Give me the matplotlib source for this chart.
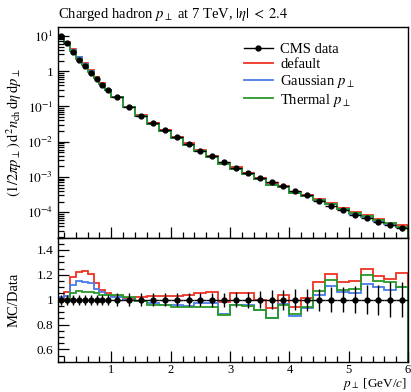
import numpy as np
import matplotlib
matplotlib.use("Agg")
import matplotlib.pyplot as plt
from matplotlib.ticker import FixedLocator, MultipleLocator, LogLocator, FuncFormatter, NullFormatter
from matplotlib.lines import Line2D

plt.rcParams['font.family'] = ['Liberation Serif', 'DejaVu Serif']
plt.rcParams['mathtext.fontset'] = 'stix'

# ---- data ----
bin_edges = [0.1, 0.2, 0.3, 0.4, 0.5, 0.6, 0.7, 0.8, 0.9, 1.0,
             1.2, 1.4, 1.6, 1.8, 2.0, 2.2, 2.4, 2.6, 2.8, 3.0,
             3.2, 3.4, 3.6, 3.8, 4.0, 4.2, 4.4, 4.6, 4.8, 5.0,
             5.2, 5.4, 5.6, 5.8, 6.0]

cms_log10 = [1.00, 0.80, 0.55, 0.33, 0.14, -0.05, -0.22, -0.38, -0.54,
             -0.74, -1.02, -1.26, -1.47, -1.67, -1.87, -2.06, -2.25, -2.42, -2.59,
             -2.75, -2.90, -3.03, -3.15, -3.27, -3.39, -3.52, -3.68, -3.82, -3.95,
             -4.07, -4.18, -4.28, -4.37, -4.46]

cms_rel_err = [0.04, 0.04, 0.04, 0.04, 0.04, 0.04, 0.04, 0.04, 0.04,
               0.05, 0.05, 0.05, 0.05, 0.05, 0.05, 0.05, 0.05, 0.055, 0.055,
               0.06, 0.065, 0.07, 0.075, 0.08, 0.085, 0.09, 0.09, 0.10, 0.10,
               0.11, 0.115, 0.12, 0.14, 0.14]

ratio_default = [1.00, 1.06, 1.18, 1.225, 1.23, 1.21, 1.135, 1.08, 1.05,
                 1.03, 1.015, 1.02, 1.03, 1.03, 1.03, 1.035, 1.05, 1.06, 0.98,
                 1.05, 1.055, 1.00, 0.93, 1.035, 0.945, 1.015, 1.14, 1.21, 1.145,
                 1.15, 1.25, 1.19, 1.17, 1.215]

ratio_gaussian = [1.02, 1.03, 1.12, 1.15, 1.145, 1.135, 1.09, 1.06, 1.04,
                  1.025, 0.995, 0.99, 0.97, 0.955, 0.955, 0.95, 0.97, 0.97, 0.885,
                  0.96, 0.955, 0.92, 0.85, 0.965, 0.865, 0.93, 1.04, 1.11, 1.06,
                  1.055, 1.13, 1.10, 1.075, 1.10]

ratio_thermal = [0.99, 1.00, 1.05, 1.07, 1.065, 1.06, 1.05, 1.035, 1.035,
                 1.035, 1.025, 0.99, 0.96, 0.955, 0.94, 0.94, 0.94, 0.945, 0.88,
                 0.955, 0.95, 0.92, 0.855, 0.955, 0.886, 0.94, 1.073, 1.157, 1.08,
                 1.085, 1.20, 1.15, 1.145, 1.10]

series_labels = ['default', r'Gaussian $p_\perp$', r'Thermal $p_\perp$']
series_colors = ['#ee3322', '#4a7de8', '#2a9a2a']

edges = np.array(bin_edges)
centers = 0.5 * (edges[1:] + edges[:-1])
halfw = 0.5 * (edges[1:] - edges[:-1])
cms = 10 ** np.array(cms_log10)
err = np.array(cms_rel_err)
ratios = [np.array(ratio_default), np.array(ratio_gaussian), np.array(ratio_thermal)]

fig = plt.figure(figsize=(4.11, 3.92), dpi=100)
ax1 = fig.add_axes([0.141, 0.394, 0.852, 0.537])
ax2 = fig.add_axes([0.141, 0.077, 0.852, 0.317], sharex=ax1)

# top panel
for r, c in zip(ratios, series_colors):
    ax1.stairs(cms * r, edges, color=c, lw=1.3)
ax1.errorbar(centers, cms, yerr=cms * err, xerr=halfw, fmt='o', color='black',
             ms=3.5, lw=1.0, capsize=0, zorder=5)
ax1.set_yscale('log')
ax1.set_ylim(1.9e-5, 18)
ax1.set_xlim(0.1, 6.0)

def logfmt(v, pos):
    e = int(round(np.log10(v)))
    if e == 0:
        return '1'
    return r'$10^{%d}$' % e

ax1.yaxis.set_major_locator(FixedLocator([1e-4, 1e-3, 1e-2, 1e-1, 1, 10]))
ax1.yaxis.set_minor_locator(LogLocator(base=10, subs=np.arange(2, 10), numticks=20))
ax1.yaxis.set_major_formatter(FuncFormatter(logfmt))
ax1.yaxis.set_minor_formatter(NullFormatter())
ax1.tick_params(axis='x', labelbottom=False)

# ratio panel
for r, c in zip(ratios, series_colors):
    ax2.stairs(r, edges, color=c, lw=1.3)
ax2.errorbar(centers, np.ones_like(centers), yerr=err, xerr=halfw, fmt='o',
             color='black', ms=3.5, lw=1.0, capsize=0, zorder=5)
ax2.set_ylim(0.5, 1.5)
ax2.yaxis.set_major_locator(FixedLocator([0.6, 0.8, 1.0, 1.2, 1.4]))
minor_r = [round(0.5 + 0.05 * i, 2) for i in range(21)]
minor_r = [v for v in minor_r if v not in (0.6, 0.8, 1.0, 1.2, 1.4)]
ax2.yaxis.set_minor_locator(FixedLocator(minor_r))
ax2.yaxis.set_minor_formatter(NullFormatter())
ax2.yaxis.set_major_formatter(FuncFormatter(lambda v, p: '%g' % v))
ax2.xaxis.set_major_locator(FixedLocator([1, 2, 3, 4, 5, 6]))
ax2.xaxis.set_minor_locator(FixedLocator([round(0.2 * i, 1) for i in range(1, 30) if i % 5 != 0]))
ax2.xaxis.set_major_formatter(FuncFormatter(lambda v, p: '%d' % round(v)))
ax2.xaxis.set_minor_formatter(NullFormatter())

for ax in (ax1, ax2):
    ax.tick_params(which='both', direction='in', top=False, right=False,
                   labelsize=9.5, width=0.9)
    ax.tick_params(which='major', length=8)
    ax.tick_params(which='minor', length=4)
    for s in ax.spines.values():
        s.set_linewidth(1.0)
ax2.tick_params(axis='x', which='major', pad=1.5, labelsize=9)

fig.text(0.141, 0.962, r'Charged hadron $p_\perp$ at 7 TeV, $|\eta|\;<\;2.4$',
         fontsize=10.5, ha='left', va='center')
fig.text(0.035, 0.662, r'$(1/2\pi p_\perp)\,\mathrm{d}^2 n_{\mathrm{ch}}\,\mathrm{d}\eta\,\mathrm{d}p_\perp$',
         rotation=90, fontsize=10.5, ha='center', va='center')
fig.text(0.035, 0.235, 'MC/Data', rotation=90, fontsize=10.5, ha='center', va='center')
fig.text(0.99, 0.001, r'$p_\perp$ [GeV/$c$]', fontsize=9.5, ha='right', va='bottom')

handles = [Line2D([], [], color='black', marker='o', ms=3.5, lw=1.0)]
for c in series_colors:
    handles.append(Line2D([], [], color=c, lw=1.3))
ax1.legend(handles, ['CMS data'] + series_labels, loc='upper left',
           bbox_to_anchor=(0.531, 0.925), frameon=False, fontsize=10.5,
           handlelength=2.0, handletextpad=0.5, labelspacing=0.12,
           borderpad=0, borderaxespad=0)

fig.savefig('out.png', dpi=100)
